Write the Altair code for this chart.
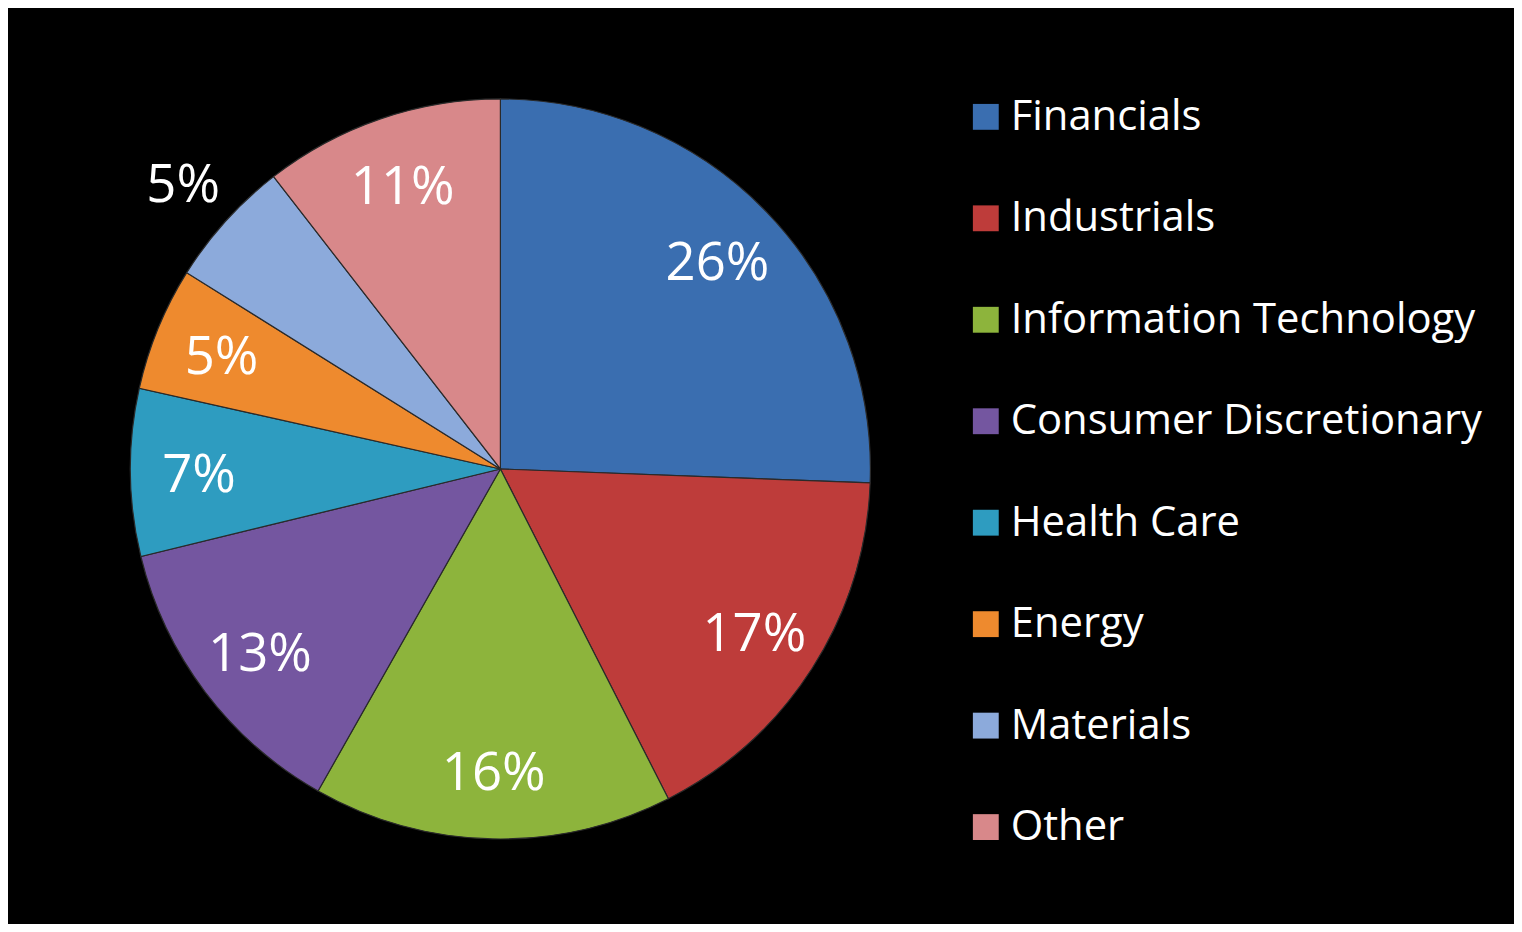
import altair as alt
import pandas as pd

sectors = ["Financials", "Industrials", "Information Technology", "Consumer Discretionary",
           "Health Care", "Energy", "Materials", "Other"]
values = [25.6, 16.9, 15.7, 13.0, 7.3, 5.4, 5.6, 10.5]
labels = ["26%", "17%", "16%", "13%", "7%", "5%", "5%", "11%"]
colors = ["#3A6EB0", "#BE3C3A", "#8DB43C", "#7456A0", "#2E9CC0", "#EE8A2E", "#8CAADB", "#D8888A"]

df = pd.DataFrame({"Sector": sectors, "Value": values, "Label": labels,
                   "idx": list(range(len(sectors)))})

FONT = "Open Sans"
CX, CY, R = 495, 461, 372

base = alt.Chart(df).encode(
    theta=alt.Theta("Value:Q", stack=True),
    order=alt.Order("idx:Q"),
    x=alt.value(CX),
    y=alt.value(CY),
)

arcs = base.mark_arc(outerRadius=R, stroke="#2a2a2a", strokeWidth=1.2).encode(
    color=alt.Color(
        "Sector:N",
        scale=alt.Scale(domain=sectors, range=colors),
        sort=sectors,
        legend=alt.Legend(
            title=None,
            orient="none",
            legendX=962,
            legendY=86,
            padding=0,
            symbolType="square",
            symbolSize=676,
            symbolStrokeWidth=0,
            labelFont=FONT,
            labelFontSize=42,
            labelColor="white",
            labelOffset=4,
            labelLimit=600,
            rowPadding=60,
        ),
    )
)

is_outside = "datum.Sector == 'Materials'"

text_in = base.mark_text(font=FONT, fontSize=53, color="white", align="center",
                         baseline="middle", radius=303, dy=4).encode(
    text=alt.condition(is_outside, alt.value(""), "Label:N"),
)

text_out = base.mark_text(font=FONT, fontSize=53, color="white", align="center",
                          baseline="middle", radius=430, dy=4).encode(
    text=alt.condition(is_outside, "Label:N", alt.value("")),
)

chart = alt.layer(arcs, text_in, text_out).properties(
    width=1514,
    height=916,
    background="black",
    padding=0,
    autosize=alt.AutoSizeParams(type="none"),
).configure_view(stroke=None)

chart.save("out.html", embed_options={"renderer": "svg", "actions": False})
